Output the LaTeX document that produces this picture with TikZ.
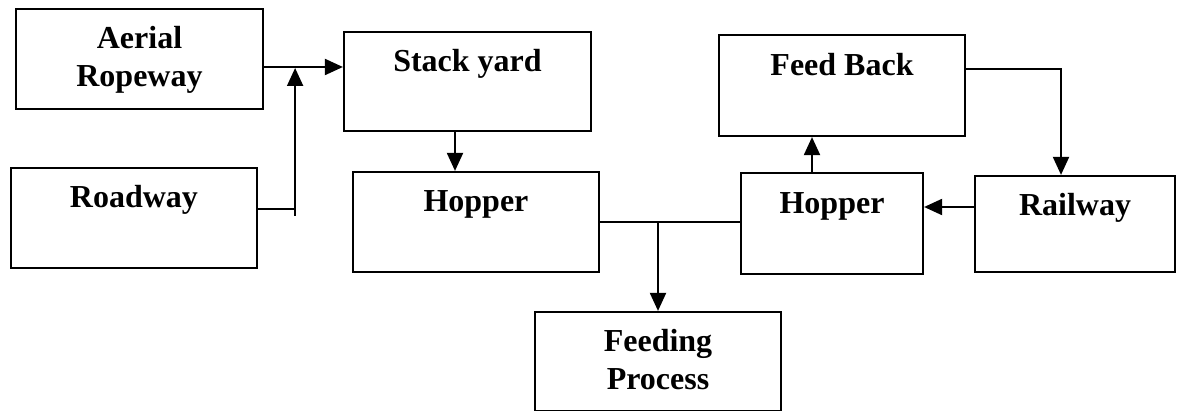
\documentclass[tikz,border=0pt]{standalone}
\usepackage{fontspec}
\setmainfont{Liberation Serif}
\usetikzlibrary{arrows.meta, calc, positioning}
\tikzset{
    procBox/.style={rectangle, draw, line width=1.1pt, inner sep=0pt},
    boxText/.style={font=\fontsize{16}{19}\selectfont\bfseries, align=center, anchor=base, inner sep=0pt},
    flow/.style={-{Triangle[length=9pt, width=8pt]}, line width=1pt},
    plain/.style={line width=1pt},
}
\newcommand{\drawBox}[7][41]{
    % box outline, then its label near the top (#1 = drop of the last baseline)
    \node[procBox, minimum width=#5*0.5pt, minimum height=#6*0.5pt] (#2) at (#3, #4) {};
    \node[boxText] (#2-text) at ($(#2.north)+(0, #1)$) {#7};
}

\begin{document}
\begin{tikzpicture}[x=0.5pt, y=-0.5pt]
        \useasboundingbox (0, 0) rectangle (1177, 411);

        \drawBox[79]{aerial}{139.5}{59}{247}{100}{Aerial\\Ropeway}
        \drawBox{road}{134}{218}{246}{100}{Roadway}
        \drawBox{stack}{467.5}{81.5}{247}{99}{Stack yard}
        \drawBox{hopL}{476}{222}{246}{100}{Hopper}
        \drawBox[42]{feedback}{842}{85.5}{246}{101}{Feed Back}
        \drawBox[42]{hopR}{832}{223.5}{182}{101}{Hopper}
        \drawBox{rail}{1075}{224}{200}{96}{Railway}
        \drawBox[79]{feeding}{658}{361.5}{246}{99}{Feeding\\Process}

        % incoming lines to the stack yard
        \coordinate (aerialOut) at ([yshift=-4pt]aerial.east);
        \coordinate (join) at ([xshift=18.5pt, yshift=4.5pt]road.east);
        \draw[flow] (aerialOut) -- (aerialOut -| stack.west);
        \draw[plain] ([yshift=4.5pt]road.east) -- (join);
        \draw[flow] ([yshift=-3.5pt]join) -- ([yshift=-0.5pt]join |- aerialOut);

        \draw[flow] ([xshift=-6.25pt]stack.south) -- ([xshift=-6.25pt]stack.south |- hopL.north);

        % hoppers to the feeding process
        \draw[plain] (hopL.east) -- (hopL.east -| hopR.west);
        \draw[flow] (feeding.north |- hopL.east) -- (feeding.north);

        % feed back loop
        \draw[flow] ([xshift=-10pt]hopR.north) -- ([xshift=-10pt]hopR.north |- feedback.south);
        \draw[flow] ([yshift=8.25pt]feedback.east) -| ([xshift=-7pt]rail.north);
        \draw[flow] ([yshift=8.5pt]rail.west) -- ([yshift=8.5pt]rail.west -| hopR.east);

    \end{tikzpicture}
\end{document}
